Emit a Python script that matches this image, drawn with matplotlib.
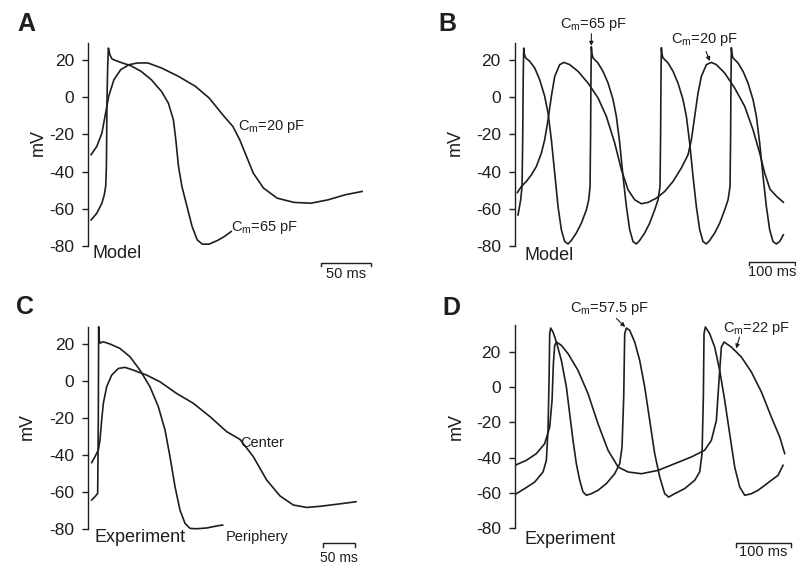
import matplotlib
matplotlib.use("Agg")
import matplotlib.pyplot as plt

plt.rcParams['font.family'] = ['Liberation Sans', 'DejaVu Sans']
plt.rcParams['mathtext.default'] = 'regular'
plt.rcParams['axes.unicode_minus'] = False

INK = '#1e1e1e'

# ---- panel A: model, single action potentials (ms, mV)
a65_t = [3.1, 8.8, 13.9, 16.3, 17.7, 18.4, 19.0, 19.7, 20.4, 21.8, 24.1, 32.7, 42.9, 53.1, 63.3,
         73.5, 80.3, 85.4, 87.8, 90.5, 93.9, 99, 104.1, 109.2, 114.3, 121.1, 129.6, 136.4, 143.2]
a65_v = [-66, -62.4, -57, -52.5, -48, -37.3, -1.4, 16.5, 26.3, 22.8, 20.4, 18.6, 16.8, 13.8, 9.3,
         3.0, -3.2, -12.2, -22.9, -37.3, -48, -58.8, -69.5, -76.7, -79, -79, -77, -74.9, -72.2]
a20_t = [3.1, 8.8, 13.9, 17.3, 20.7, 25.9, 32.7, 41.2, 49.7, 59.9, 73.5, 90.5, 107.5, 121.1,
         134.7, 144.9, 151.7, 158.5, 165.3, 175.5, 189.1, 206.1, 223.1, 240.1, 257.1, 274.1]
a20_v = [-31, -26.5, -19.4, -9.5, 0.4, 9.3, 14.7, 17.4, 18.3, 18.3, 15.6, 11.1, 5.7, -0.5,
         -9.5, -15.8, -22.9, -31.9, -40.9, -48.9, -54.3, -56.6, -57, -55.2, -52.5, -50.7]

# ---- panel B: model, spontaneous activity
b65_t = [7.2, 13, 16, 17.5, 18.5, 19.6, 21, 24, 32.6, 43.5, 54.3, 65.2, 72.5, 79.7, 87, 94.2,
         101.4, 108.7, 116, 123.2, 134, 145, 155.8, 160.9, 163.8,
         165, 165.8, 166.6, 168, 170.3, 181, 192, 203, 213.8, 221, 228.3, 235.5, 242.8, 250,
         257.2, 264.5, 271.7, 282.6, 293.5, 304.3, 311.6, 315.9,
         317.2, 318, 318.8, 320.2, 322.5, 333.3, 344.2, 355, 365.9, 373.2, 380.4, 387.7, 394.9,
         402.2, 409.4, 416.7, 423.9, 434.8, 445.7, 456.5, 463.8, 468.1,
         469.4, 470.2, 471, 472.4, 474.6, 485.5, 496.4, 507.2, 518.1, 525.4, 532.6, 539.9, 547.1,
         554.3, 561.6, 568.8, 576, 584]
b65_v = [-63.3, -55.2, -48, -20, 10, 26.3, 23, 21, 19.2, 15.6, 9.3, 0.4, -8.6, -22.9, -40.9, -58.8,
         -71.3, -77.6, -78.9, -77, -73, -67.7, -60.6, -55.2, -48,
         -20, 10, 27, 23, 21, 18.3, 13.8, 7.5, -1.4, -10.4, -24.7, -42.7, -58.8, -71.3,
         -77.6, -78.9, -77, -73, -67.7, -60.6, -55.2, -48,
         -20, 10, 26.5, 23, 21, 18.3, 13.8, 7.5, -1.4, -10.4, -24.7, -42.7, -58.8,
         -71.3, -77.6, -78.9, -77, -73, -67.7, -60.6, -55.2, -48,
         -20, 10, 26.5, 23, 21, 18.3, 13.8, 7.5, -1.4, -10.4, -24.7, -42.7, -58.8,
         -71.3, -77.6, -78.9, -77.6, -74]
b20_t = [5.8, 14.5, 25.4, 36.2, 47.1, 58, 65.2, 72.5, 79.7, 87, 97.8, 107.2, 119.6, 137.7, 159.4,
         181.2, 199.3, 217.4, 231.9, 246.4, 260.9, 275.4, 289.9, 308, 326.1, 344.2, 362.3, 376.8,
         384.1, 391.3, 398.6, 405.8, 416.7, 427.5, 438.4, 456.5, 478.3, 500, 518.1, 532.6, 543.5,
         555, 570, 584]
b20_v = [-51.3, -48, -45.3, -41.8, -37.3, -30.1, -22.9, -12.2, 0.4, 11.1, 17.4, 18.6, 17.4, 13.8, 7.5,
         -0.5, -10.4, -24.7, -39, -49.8, -55.2, -57.3, -56.6, -54.3, -50.7, -45.3, -38.1, -31,
         -22.9, -10.4, 2.2, 11.1, 17.4, 18.6, 17.4, 12.9, 4.8, -5, -17.6, -30.1, -40.9,
         -49.5, -53.5, -56.5]

# ---- panel C: experiment, periphery vs center
cp_t = [5.7, 10.9, 15, 16, 16.5, 17.5, 19, 23.8, 34.1, 49.6, 65.1, 80.6, 96.1, 109, 119.4, 127.1,
        134.9, 142.6, 150.4, 158.1, 168.5, 184, 199.5, 208.8]
cp_v = [-64.2, -62.4, -60.6, -20, 29.3, 22, 20.5, 21.2, 20, 17.6, 13.1, 5.9, -3.1, -13.8, -26.4, -40.8,
        -57, -69.6, -76.8, -79.5, -79.7, -79.3, -78.2, -77.7]
cc_t = [5.7, 10.9, 16, 18.6, 21.2, 23.8, 28.9, 36.7, 47, 57.4, 70.3, 91, 111.6, 137.5, 163.3, 189.1,
        215, 235.7, 256.3, 277, 297.7, 318.3, 339, 359.7, 380.4, 401, 415.5]
cc_v = [-44, -40.8, -37.2, -31.8, -21, -12, -3.1, 3.2, 6.8, 7.4, 5.9, 3.2, -0.4, -6.7, -12, -19.2,
        -27.3, -31.5, -40.8, -53.4, -62, -66.9, -68.2, -67.6, -66.7, -65.8, -65.1]

# ---- panel D: experiment, spontaneous activity
d57_t = [3, 18.3, 36.6, 51.8, 57.9, 60.9, 62.8, 64, 65.8, 70.1, 76.2, 85.3, 94.5, 100.5, 106.6, 112.7,
         118.8, 124.9, 131, 140.2, 152.3, 167.6, 182.8, 192, 196.2, 199.3, 201.1, 204.1, 210.2,
         219.4, 228.5, 237.7, 246.8, 255.9, 265.1, 274.2, 281.5, 292.5, 310.8, 329.1, 338.2,
         342.5, 344.9, 346.1, 348.6, 356.5, 365.6, 374.8, 383.9, 393, 402.2, 411.3, 420.5,
         432.7, 444.8, 457, 469.2, 481.4, 490.6]
d57_v = [-60.4, -57.5, -53.8, -48.1, -41.5, -24.5, 3.8, 30.2, 33.4, 31.1, 25.5, 15.1, 0, -15.1, -30.2, -43.4,
         -52.8, -59.4, -61.3, -60.4, -58.5, -54.7, -49.1, -43.4, -34, -5.7, 30.2, 33.4, 32.1,
         25.5, 15.1, 0, -18.9, -37.7, -50.9, -60.4, -62.3, -60.4, -57.5, -52.8, -48.1,
         -37.7, -5.7, 30.2, 34, 30.2, 22.6, 9.4, -7.5, -26.4, -45.3, -56.6, -61.3,
         -60.4, -58.5, -55.7, -52.8, -50, -44.3]
d22_t = [3, 21.3, 39.6, 54.8, 64, 68.3, 70.7, 73.1, 76.2, 85.3, 97.5, 115.8, 134.1, 152.3, 170.6, 189,
         207.2, 231.6, 262, 292.5, 323, 347.3, 359.5, 368.7, 373.5, 377.8, 382.7, 396.1, 414.4,
         432.7, 451, 469.2, 484.5, 493.6]
d22_v = [-44, -41.5, -37.7, -32.1, -22.6, -7.5, 13.2, 23.6, 25.5, 23.6, 18.9, 9.4, -3.8, -20.8, -35.8, -45.3,
         -48.1, -49.1, -47.2, -43.4, -39.6, -35.8, -30.2, -18.9, 3.8, 22.6, 25.5, 22.6, 17,
         8.5, -2.8, -17, -28.3, -37.7]

yticks = [-80, -60, -40, -20, 0, 20]

W, H = 796, 567
fig = plt.figure(figsize=(W / 100, H / 100), dpi=100)


def px(x, y):
    return x / W, 1 - y / H


def panel(left, bottom, ms_px, mv_px, xmax, ymin, ymax):
    w = xmax * ms_px
    h = (ymax - ymin) * mv_px
    ax = fig.add_axes([left / W, (H - bottom) / H, w / W, h / H])
    ax.set_xlim(0, xmax)
    ax.set_ylim(ymin, ymax)
    for s in ['top', 'right', 'bottom']:
        ax.spines[s].set_visible(False)
    ax.spines['left'].set_color(INK)
    ax.spines['left'].set_linewidth(1.0)
    ax.set_xticks([])
    ax.set_yticks(yticks)
    ax.tick_params(axis='y', direction='out', length=4, width=1, pad=6,
                   labelsize=12.5, colors=INK)
    ax.patch.set_alpha(0)
    return ax


def trace(ax, t, v):
    ax.plot(t, v, color=INK, lw=1.2, clip_on=False, solid_joinstyle='round')


def scalebar(ax, t0, length, y, drop, label, ly, size=10.5):
    ax.plot([t0, t0, t0 + length, t0 + length], [y - drop, y, y, y - drop],
            color=INK, lw=1.0, clip_on=False)
    ax.text(t0 + length / 2, ly, label, ha='center', va='center',
            fontsize=size, color=INK, clip_on=False)


lab = dict(fontsize=10.5, color=INK, va='center', ha='left')
arr = dict(arrowstyle='-|>', color=INK, lw=0.8, mutation_scale=6, shrinkA=0, shrinkB=0)

# A
axA = panel(88, 246, 1.0, 1.862, 285, -80, 29)
trace(axA, a20_t, a20_v)
trace(axA, a65_t, a65_v)
axA.text(150, -16, 'C$_m$=20 pF', **lab)
axA.text(143, -70.3, 'C$_m$=65 pF', **lab)
scalebar(axA, 232.7, 50, -89.1, 1.8, '50 ms', -94.8)

# B
axB = panel(514.7, 246, 0.46, 1.862, 610, -80, 29)
trace(axB, b20_t, b20_v)
trace(axB, b65_t, b65_v)
axB.text(98.5, 38.9, 'C$_m$=65 pF', **lab)
axB.annotate('', xy=(166.6, 27.5), xytext=(166.6, 34), arrowprops=arr, annotation_clip=False)
axB.text(340, 30.9, 'C$_m$=20 pF', **lab)
axB.annotate('', xy=(424, 19.3), xytext=(416, 24.5), arrowprops=arr, annotation_clip=False)
scalebar(axB, 510, 100, -88.4, 1.8, '100 ms', -94.2)

# C
axC = panel(88, 529.3, 0.645, 1.853, 425, -80, 29.3)
trace(axC, cc_t, cc_v)
trace(axC, cp_t, cp_v)
axC.text(236, -33.5, 'Center', **lab)
axC.text(214, -84.2, 'Periphery', **lab)
scalebar(axC, 363.9, 50, -87.4, 2.2, '50 ms', -95.6, size=10)

# D
axD = panel(514.7, 528.3, 0.547, 1.766, 510, -80, 35)
trace(axD, d22_t, d22_v)
trace(axD, d57_t, d57_v)
axD.text(101, 44.6, 'C$_m$=57.5 pF', **lab)
axD.annotate('', xy=(202, 34), xytext=(186, 38.8), arrowprops=arr, annotation_clip=False)
axD.text(381, 33.2, 'C$_m$=22 pF', **lab)
axD.annotate('', xy=(405, 21.8), xytext=(411, 28.3), arrowprops=arr, annotation_clip=False)
scalebar(axD, 404.6, 100, -88.3, 2.5, '100 ms', -93.4)

# panel letters, axis titles, condition labels
for letter, (x, y) in zip('ABCD', [(26, 24), (447, 24), (25, 307), (451, 308)]):
    fig.text(*px(x, y), letter, fontsize=18, fontweight='bold', color=INK,
             ha='center', va='center')
for (x, y) in [(38, 143), (455, 143), (27, 427), (456, 427)]:
    fig.text(*px(x, y), 'mV', fontsize=13, rotation=90, color=INK,
             ha='center', va='center')
for text, (x, y) in [('Model', (93, 254)), ('Model', (524, 255)),
                     ('Experiment', (95, 538)), ('Experiment', (525, 540))]:
    fig.text(*px(x, y), text, fontsize=13, color=INK, ha='left', va='center')

fig.savefig('out.png', dpi=100, facecolor='white')
